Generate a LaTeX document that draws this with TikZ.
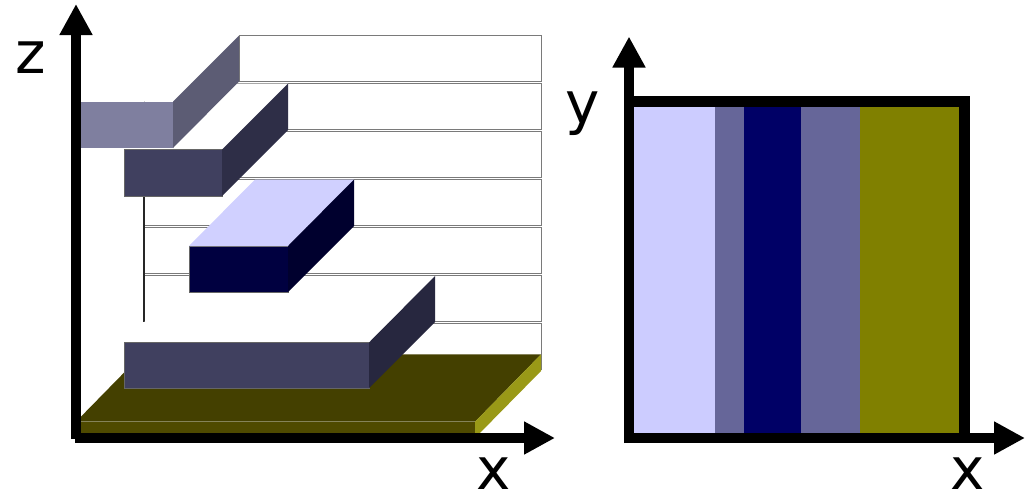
\documentclass[tikz,border=0pt]{standalone}
\usepackage{fontspec}
\setmainfont{DejaVu Sans}
\usetikzlibrary{arrows.meta}
\usepackage{xcolor}
\definecolor{slabpale}{HTML}{CCCCFF}
\definecolor{slabmid}{HTML}{666699}
\definecolor{slabdark}{HTML}{000066}
\definecolor{slabolive}{HTML}{808000}
\definecolor{topfront}{HTML}{7F7F9F}
\definecolor{topside}{HTML}{5C5C74}
\definecolor{upfront}{HTML}{40405F}
\definecolor{upside}{HTML}{2E2E47}
\definecolor{lowside}{HTML}{27273F}
\definecolor{midfront}{HTML}{000040}
\definecolor{midside}{HTML}{00002E}
\definecolor{midtop}{HTML}{D0D0FF}
\definecolor{platetop}{HTML}{444000}
\definecolor{platefront}{HTML}{4F4A00}
\definecolor{plateside}{HTML}{999917}

\begin{document}
\begin{tikzpicture}[
  x=1pt, y=-1pt,
  axis/.style={line width=10.5pt, -{Triangle[length=31pt,width=31pt]}},
  boxline/.style={line width=10.5pt},
  strip/.style={draw=black!52, line width=1pt, fill=white},
  edge/.style={draw=gray!80!black, line width=0.5pt},
  lbl/.style={inner sep=0pt, anchor=base, font=\fontsize{58}{58}\selectfont},
]
\useasboundingbox (0,0) rectangle (1025,493);

% ---- LEFT: stacked layers ----
\draw[strip] (239,35.5) rectangle (541,81.5);
\draw[strip] (144,83.5) rectangle (541,129.5);
\draw[strip] (144,131.5) rectangle (541,177.5);
\draw[strip] (144,179.5) rectangle (541,225.5);
\draw[strip] (144,227.5) rectangle (541,273.5);
\draw[strip] (144,275.5) rectangle (541,321.5);
\draw[strip] (144,323.5) rectangle (541,369.5);
\draw[black!85, line width=1.6pt] (144,196) -- (144,322);

% substrate plate
\fill[platetop] (76,421.7) -- (142,354.3) -- (541,354.3) -- (475,421.7) -- cycle;
\fill[platefront] (76,421.7) rectangle (475,438);
\fill[plateside] (475,421.7) -- (541,354.3) -- (541,371) -- (475,438) -- cycle;

% bottom block
\fill[white] (124,342.5) -- (190,276) -- (435,276) -- (369,342.5) -- cycle;
\draw[edge, fill=upfront] (124,342.5) rectangle (369,388);
\fill[lowside] (369,342.5) -- (435,276) -- (435,322) -- (369,388) -- cycle;

% middle block
\draw[edge, fill=midfront] (189,246) rectangle (288,292);
\fill[midtop] (189,246) -- (255,179.5) -- (354,179.5) -- (288,246) -- cycle;
\fill[midside] (288,246) -- (354,179.5) -- (354,226) -- (288,292) -- cycle;

% upper block
\fill[white] (124,149.5) -- (190,83.5) -- (288,83.5) -- (222,149.5) -- cycle;
\draw[edge, fill=upfront] (124,149.5) rectangle (222,196);
\fill[upside] (222,149.5) -- (288,83.5) -- (288,130) -- (222,196) -- cycle;

% top block
\fill[white] (81,101.5) -- (147,35.5) -- (239,35.5) -- (173,101.5) -- cycle;
\fill[topfront] (81,101.5) rectangle (173,148);
\fill[topside] (173,101.5) -- (239,35.5) -- (239,81.5) -- (173,148) -- cycle;

% axes
\coordinate (zfoot) at (76,439);
\coordinate (ztip) at (76,4);
\coordinate (xfoot) at (75,438);
\coordinate (xtip) at (555,438);
\draw[axis] (zfoot) -- (ztip);
\draw[axis] (xfoot) -- (xtip);
\node[lbl] (zlab) at (30.5,73) {z};
\node[lbl] (xlab) at (494,489) {x};

% ---- RIGHT: plan view ----
\fill[slabpale] (634,106) rectangle (715,433);
\fill[slabmid] (715,106) rectangle (744,433);
\fill[slabdark] (744,106) rectangle (801,433);
\fill[slabmid] (801,106) rectangle (859.5,433);
\fill[slabolive] (859.5,106) rectangle (960,433);

\coordinate (yfoot) at (629,443);
\coordinate (ytip) at (629,36.5);
\coordinate (xfootb) at (624,438);
\coordinate (xtipb) at (1025,438);
\coordinate (boxul) at (624,101.7);
\coordinate (boxur) at (964.5,101.7);
\coordinate (boxlr) at (964.5,438);
\draw[boxline] (boxul) -- (boxur) -- (boxlr);
\draw[axis] (yfoot) -- (ytip);
\draw[axis] (xfootb) -- (xtipb);
\node[lbl] (ylab) at (583,123) {y};
\node[lbl] (xlabb) at (967.5,489) {x};
\end{tikzpicture}
\end{document}
